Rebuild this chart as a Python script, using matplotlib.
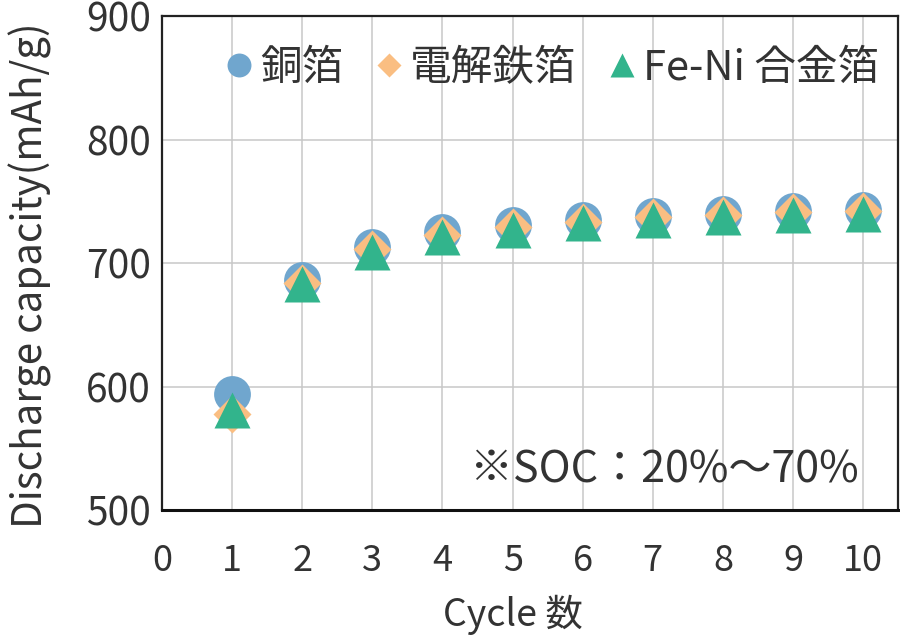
import matplotlib
matplotlib.use("Agg")
import matplotlib.pyplot as plt

plt.rcParams['font.family'] = ['Noto Sans CJK JP', 'DejaVu Sans']

cycles = [1, 2, 3, 4, 5, 6, 7, 8, 9, 10]
copper = [594, 686, 713, 725, 731, 735, 738, 740, 742, 743]
iron = [578, 684, 711, 723, 729, 733, 737, 739, 741, 742]
feni = [581, 683, 709, 721, 727, 732, 735, 737, 739, 740]
labels = ["銅箔", "電解鉄箔", "Fe-Ni 合金箔"]
xticks = list(range(0, 11))
yticks = [500, 600, 700, 800, 900]

text_color = "#333333"

fig = plt.figure(figsize=(9, 6.38), dpi=100)
ax = fig.add_axes([0.18, 0.2006, 0.818, 0.7743])

# markers, triangle drawn last so it sits on top
h1, = ax.plot(cycles, copper, "o", ms=26.5, color="#70a6ce", mec="none", zorder=3)
h2, = ax.plot(cycles, iron, "D", ms=19, color="#fabe82", mec="none", zorder=4)
h3, = ax.plot(cycles, feni, "^", ms=26.5, color="#32b48c", mec="none", zorder=5)

ax.set_xlim(0, 10.5)
ax.set_ylim(500, 900)
ax.set_xticks(xticks)
ax.set_yticks(yticks)
ax.grid(True, color="#c8c8c8", linewidth=1.1)
ax.set_axisbelow(True)

for side in ["left", "top", "right"]:
    ax.spines[side].set_color("#222222")
    ax.spines[side].set_linewidth(1.6)
ax.spines["bottom"].set_color("#111111")
ax.spines["bottom"].set_linewidth(2.2)

ax.tick_params(axis="both", length=0, colors=text_color)
ax.tick_params(axis="x", pad=24, labelsize=26)
ax.tick_params(axis="y", pad=8, labelsize=28)

ax.set_xlabel("Cycle 数", fontsize=27, color=text_color)
ax.xaxis.set_label_coords(5 / 10.5, -0.172)
ax.set_ylabel("Discharge capacity(mAh/g)", fontsize=29, color=text_color)
ax.yaxis.set_label_coords(-0.149, 0.475)

leg = ax.legend([h1, h2, h3], labels, ncol=3, loc="upper left",
                bbox_to_anchor=(0.065, 0.969), frameon=False, fontsize=30,
                handlelength=0.6, handletextpad=0.2, columnspacing=0.8,
                markerscale=0.65, borderaxespad=0.0)
for t in leg.get_texts():
    t.set_color(text_color)

ax.text(0.946, 0.081, "※SOC：20%～70%", transform=ax.transAxes, ha="right",
        va="center", fontsize=31, color=text_color)

fig.savefig("out.png", dpi=100)
